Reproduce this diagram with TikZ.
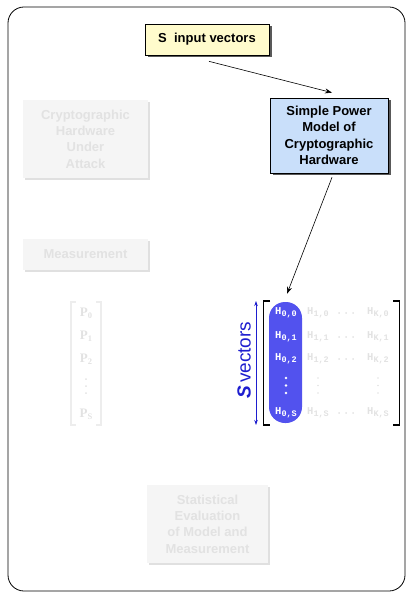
\documentclass[tikz,border=0pt]{standalone}
\usepackage{fontspec}
\setmainfont{Liberation Sans}
\newfontfamily\entryfont{Liberation Mono}
\newfontfamily\pfont{Liberation Serif}
\usetikzlibrary{arrows.meta,shadows}

\definecolor{inputfill}{HTML}{FFFBCC}
\definecolor{modelfill}{HTML}{C9DFFA}
\definecolor{colblue}{HTML}{5252EE}
\definecolor{labelblue}{HTML}{1E1ECF}
\definecolor{fadefill}{HTML}{F5F5F5}
\definecolor{fadetext}{HTML}{E2E2E2}
\definecolor{fadeshadow}{HTML}{E0E0E0}
\definecolor{fadeline}{HTML}{EDEDED}

% matrix entries: H with a small index
\newcommand{\hentry}[1]{{\fontsize{10.5}{10.5}\selectfont H}\raisebox{-0.35ex}{\fontsize{8.5}{8.5}\selectfont #1}}
\newcommand{\pentry}[1]{{\fontsize{13}{13}\selectfont P}\raisebox{-0.4ex}{\fontsize{8.5}{8.5}\selectfont #1}}

\tikzset{
  mainbox/.style={draw=black, line width=0.7pt, align=center,
    font=\bfseries\fontsize{13}{16.3}\selectfont,
    drop shadow={shadow xshift=2.5pt, shadow yshift=-2.5pt, fill=black!65, opacity=1}},
  fadebox/.style={fill=fadefill, align=center, text=fadetext,
    font=\bfseries\fontsize{13}{16.3}\selectfont,
    drop shadow={shadow xshift=2pt, shadow yshift=-2pt, fill=fadeshadow, opacity=1}},
  flow/.style={-{Stealth[length=7pt,width=5pt]}, line width=0.6pt},
  hcol/.style={text=white, font=\entryfont\bfseries, inner sep=0pt},
  hfade/.style={text=fadetext, font=\entryfont\bfseries, inner sep=0pt},
  pfade/.style={text=fadetext, font=\pfont\bfseries, inner sep=0pt},
  wdot/.style={circle, fill=white, inner sep=0pt, minimum size=2.8pt},
  fdot/.style={circle, fill=fadetext, inner sep=0pt, minimum size=2pt},
}

\begin{document}
\begin{tikzpicture}[x=1pt, y=-1pt]
\useasboundingbox (0,0) rectangle (407,593);

% outer frame
\draw[rounded corners=16pt, line width=0.8pt] (8,7) rectangle (405,591);

% blocks
\node[mainbox, fill=inputfill, minimum width=124pt, minimum height=31pt]
  (inp) at (207,39.5) {S\ \ input vectors};
\node[mainbox, fill=modelfill, minimum width=118pt, minimum height=75pt]
  (model) at (329,135.5) {Simple Power\\Model of\\Cryptographic\\Hardware};

\node[fadebox, minimum width=125pt, minimum height=78pt]
  (hw) at (85.5,139) {Cryptographic\\Hardware\\Under\\Attack};
\node[fadebox, minimum width=125pt, minimum height=31pt]
  (meas) at (85.5,254.5) {Measurement};
\node[fadebox, minimum width=121pt, minimum height=78pt]
  (stat) at (207.5,524) {Statistical\\Evaluation\\of Model and\\Measurement};

% measurement vector
\draw[fadeline, line width=1.2pt] (76,302) -- (71,302) -- (71,425) -- (76,425);
\draw[fadeline, line width=1.2pt] (96,302) -- (101,302) -- (101,425) -- (96,425);
\node[pfade] (p0) at (86,313) {\pentry{0}};
\node[pfade] (p1) at (86,336) {\pentry{1}};
\node[pfade] (p2) at (86,359) {\pentry{2}};
\node[fdot] (pd1) at (86,379) {};
\node[fdot] (pd2) at (86,386) {};
\node[fdot] (pd3) at (86,393) {};
\node[pfade] (ps) at (86,414) {\pentry{S}};

% hypothesis matrix
\draw[line width=1.6pt] (270,301) -- (263.5,301) -- (263.5,425) -- (270,425);
\draw[line width=1.6pt] (393,301) -- (399.5,301) -- (399.5,425) -- (393,425);
\node[fill=colblue, rounded corners=16pt, minimum width=33pt, minimum height=121pt, inner sep=0pt]
  (col) at (285.5,362.5) {};

\node[hcol] (h00) at (286,313) {\hentry{0,0}};
\node[hcol] (h01) at (286,337) {\hentry{0,1}};
\node[hcol] (h02) at (286,359) {\hentry{0,2}};
\node[wdot] (hd1) at (286,378) {};
\node[wdot] (hd2) at (286,385.5) {};
\node[wdot] (hd3) at (286,393) {};
\node[hcol] (h0s) at (286,413) {\hentry{0,S}};

\foreach \r/\y in {0/313, 1/337, 2/359, S/413} {
  \node[hfade] (h1\r) at (318,\y) {\hentry{1,\r}};
  \node[hfade] (hk\r) at (378,\y) {\hentry{K,\r}};
  \node[fdot] (rd1\r) at (339,\y) {};
  \node[fdot] (rd2\r) at (346,\y) {};
  \node[fdot] (rd3\r) at (353,\y) {};
}
\foreach \x/\n in {318/a, 378/b} {
  \node[fdot, minimum size=1.6pt] (cd1\n) at (\x,378) {};
  \node[fdot, minimum size=1.6pt] (cd2\n) at (\x,385.5) {};
  \node[fdot, minimum size=1.6pt] (cd3\n) at (\x,393) {};
}

% size of the column
\coordinate (stop) at (256,301);
\coordinate (sbot) at (256,425);
\draw[labelblue, line width=0.7pt, {Stealth[length=5pt,width=3.5pt]}-{Stealth[length=5pt,width=3.5pt]}] (stop) -- (sbot);
\node[text=labelblue, rotate=90, inner sep=0pt, anchor=base] (slabel) at (250.5,360)
  {{\fontsize{19}{19}\selectfont\bfseries\itshape S}\ {\fontsize{19}{19}\selectfont vectors}};

% connectors
\draw[flow] ([xshift=2pt,yshift=-6pt]inp.south) -- ([xshift=3pt,yshift=5pt]model.north);
\draw[flow] ([xshift=3pt,yshift=-4pt]model.south) -- ([xshift=1.5pt,yshift=8pt]col.north);
\end{tikzpicture}
\end{document}
